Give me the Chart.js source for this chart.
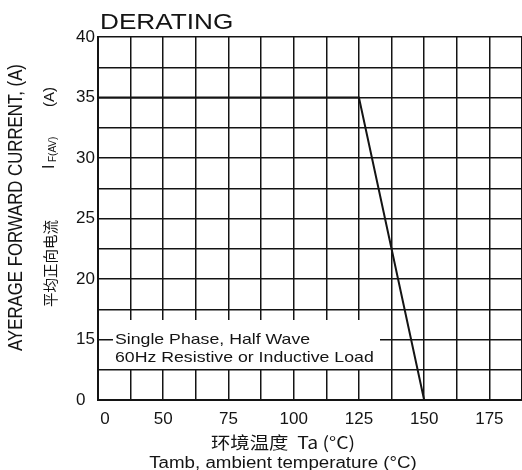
<!DOCTYPE html>
<html>
<head>
<meta charset="utf-8">
<script src="https://cdn.jsdelivr.net/npm/chart.js@4/dist/chart.umd.min.js"></script>
<style>
  html, body { margin: 0; padding: 0; background: #fff; overflow: hidden; }
  #wrap { position: relative; width: 531px; height: 470px; }
</style>
</head>
<body>
<div id="wrap"><canvas id="chart"></canvas></div>
<script>
// derating curve: ambient temperature (°C) vs average forward current (A)
const temps = [0, 125, 150];
const currents = [35, 35, 0];

// broken axes: the origin is labelled 0 but the scale starts at 25 °C / 10 A
const xTickValues = [25, 50, 75, 100, 125, 150, 175];
const xTickLabels = ["   0", "50", "75", "100", "125", "150", "175"];
const yTickValues = [10, 15, 20, 25, 30, 35, 40];
const yTickLabels = ["0  ", "15", "20", "25", "30", "35", "40"];

const X_MIN = 25, X_MAX = 187.5, Y_MIN = 10, Y_MAX = 40;
const toAxisX = v => Math.max(v, X_MIN);
const toAxisY = v => Math.max(v, Y_MIN);

const points = temps.map((t, i) => ({ x: toAxisX(t), y: toAxisY(currents[i]) }));

const lookup = (values, labels) => v => {
  const i = values.indexOf(Math.round(v * 10) / 10);
  return i >= 0 ? labels[i] : "";
};

const INK = "#141414";

function stretchText(ctx, text, x, y, sx) {
  ctx.save();
  ctx.translate(x, y);
  ctx.scale(sx, 1);
  ctx.fillText(text, 0, 0);
  ctx.restore();
}

const labelsPlugin = {
  id: "labels",
  afterDraw(chart) {
    const ctx = chart.ctx;
    ctx.save();
    ctx.fillStyle = INK;

    // title
    ctx.font = "22px 'Liberation Sans', Arial, sans-serif";
    ctx.textAlign = "left";
    ctx.textBaseline = "alphabetic";
    stretchText(ctx, "DERATING", 100, 29, 1.19);

    // note box
    ctx.fillStyle = "#fff";
    ctx.fillRect(113, 320, 267, 49);
    ctx.fillStyle = INK;
    ctx.font = "15px 'Liberation Sans', Arial, sans-serif";
    stretchText(ctx, "Single Phase, Half Wave", 115, 344, 1.18);
    stretchText(ctx, "60Hz Resistive or Inductive Load", 115, 362, 1.18);

    // x titles
    ctx.textAlign = "center";
    ctx.font = "17px 'Noto Sans CJK SC', sans-serif";
    stretchText(ctx, "环境温度  Ta (°C)", 283, 449, 1.14);
    ctx.font = "16px 'Liberation Sans', Arial, sans-serif";
    stretchText(ctx, "Tamb, ambient temperature (°C)", 283, 468, 1.17);

    // y titles (rotated)
    ctx.save();
    ctx.translate(17, 207.5);
    ctx.rotate(-Math.PI / 2);
    ctx.scale(1, 1.15);
    ctx.textAlign = "center";
    ctx.textBaseline = "middle";
    ctx.font = "16.8px 'Liberation Sans', Arial, sans-serif";
    ctx.fillText("AYERAGE FORWARD CURRENT, (A)", 0, 0);
    ctx.restore();

    ctx.save();
    ctx.translate(50, 307);
    ctx.rotate(-Math.PI / 2);
    ctx.textAlign = "left";
    ctx.textBaseline = "middle";
    ctx.font = "14.5px 'Noto Sans CJK SC', sans-serif";
    ctx.fillText("平均正向电流", 0, 0);
    ctx.font = "16px 'Liberation Sans', Arial, sans-serif";
    ctx.fillText("I", 138, 0);
    ctx.font = "10px 'Liberation Sans', Arial, sans-serif";
    ctx.fillText("F(AV)", 145, 3);
    ctx.font = "15px 'Liberation Sans', Arial, sans-serif";
    ctx.fillText("(A)", 200, 0);
    ctx.restore();

    ctx.restore();
  }
};

new Chart(document.getElementById("chart"), {
  type: "scatter",
  data: {
    datasets: [{
      data: points,
      showLine: true,
      borderColor: INK,
      borderWidth: 2,
      pointRadius: 0,
      tension: 0
    }]
  },
  options: {
    responsive: true,
    maintainAspectRatio: false,
    animation: false,
    layout: { padding: { top: 37, right: 3, left: 0, bottom: 0 } },
    plugins: { legend: { display: false }, tooltip: { enabled: false } },
    scales: {
      x: {
        type: "linear",
        min: X_MIN,
        max: X_MAX,
        afterFit(scale) { scale.height = 70; },
        border: { color: INK, width: 2 },
        grid: { color: INK, lineWidth: 1.5, drawTicks: false },
        ticks: {
          stepSize: 12.5,
          autoSkip: false,
          maxRotation: 0,
          padding: 9,
          color: INK,
          font: { family: "'Liberation Sans', Arial, sans-serif", size: 17 },
          callback: lookup(xTickValues, xTickLabels)
        }
      },
      y: {
        type: "linear",
        min: Y_MIN,
        max: Y_MAX,
        afterFit(scale) { scale.width = 98; },
        border: { color: INK, width: 2 },
        grid: { color: INK, lineWidth: 1.5, drawTicks: false },
        ticks: {
          stepSize: 2.5,
          autoSkip: false,
          padding: 3,
          color: INK,
          font: { family: "'Liberation Sans', Arial, sans-serif", size: 17 },
          callback: lookup(yTickValues, yTickLabels)
        }
      }
    }
  },
  plugins: [labelsPlugin]
});
</script>
</body>
</html>
